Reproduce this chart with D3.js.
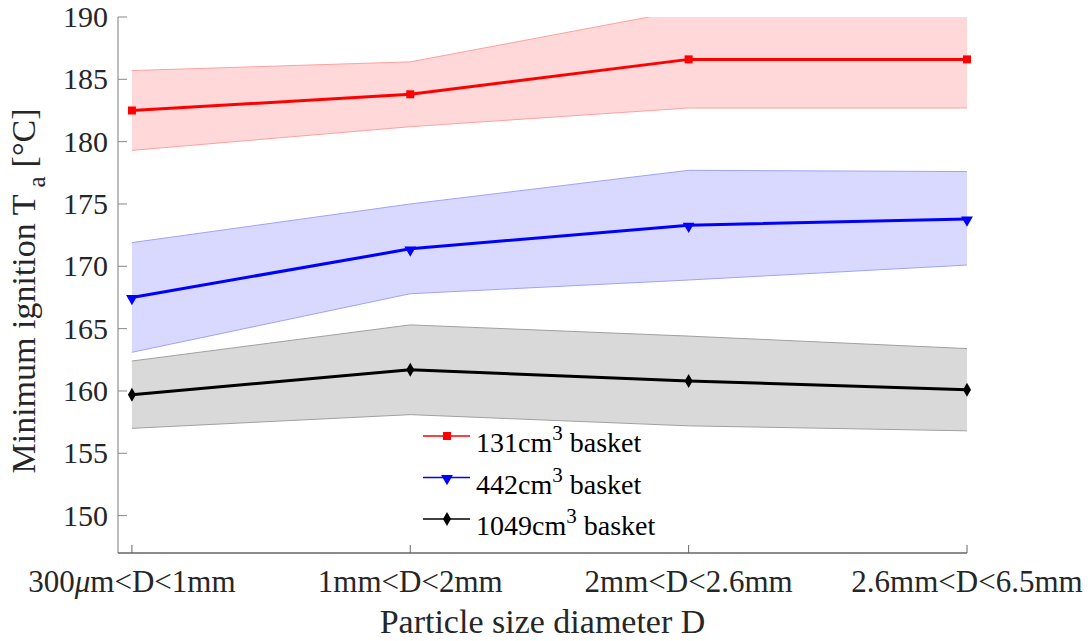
<!DOCTYPE html>
<html>
<head>
<meta charset="utf-8">
<script src="https://cdn.jsdelivr.net/npm/d3@7"></script>
</head>
<body style="margin:0;background:#fff">
<div id="chart"></div>
<script>
(function () {
  'use strict';

  /* ---- Data ---- */
  const categories = ['300μm<D<1mm', '1mm<D<2mm', '2mm<D<2.6mm', '2.6mm<D<6.5mm'];
  const yTicks = [150, 155, 160, 165, 170, 175, 180, 185, 190];

  const mean131  = [182.5, 183.8, 186.6, 186.6];
  const upper131 = [185.7, 186.4, 190.6, 190.6];
  const lower131 = [179.3, 181.2, 182.7, 182.7];

  const mean442  = [167.5, 171.4, 173.3, 173.8];
  const upper442 = [171.9, 175.0, 177.7, 177.6];
  const lower442 = [163.1, 167.8, 168.9, 170.1];

  const mean1049  = [159.7, 161.7, 160.8, 160.1];
  const upper1049 = [162.4, 165.3, 164.4, 163.4];
  const lower1049 = [157.0, 158.1, 157.2, 156.8];

  const SERIES = [
    { vol: '131',  mean: mean131,  upper: upper131,  lower: lower131,  color: '#ff0000', fill: '#ffd9d9', edge: '#ffa0a0', marker: 'square' },
    { vol: '442',  mean: mean442,  upper: upper442,  lower: lower442,  color: '#0000ff', fill: '#d9d9ff', edge: '#a0a0ff', marker: 'triangle' },
    { vol: '1049', mean: mean1049, upper: upper1049, lower: lower1049, color: '#000000', fill: '#d9d9d9', edge: '#a0a0a0', marker: 'diamond' },
  ];

  /* ---- Layout ---- */
  const W = 1091, H = 641;
  const M = { left: 118, top: 17, right: 967, bottom: 553 };

  const x = d3.scaleLinear().domain([0.95, 4]).range([M.left, M.right]);
  const y = d3.scaleLinear().domain([147, 190]).range([M.bottom, M.top]);

  const svg = d3.select('#chart').append('svg')
    .attr('width', W).attr('height', H);

  // serif text helper
  function serif(sel, size) {
    return sel.attr('font-family', 'Times New Roman')
      .style('font-family', '"Times New Roman", "Liberation Serif", serif')
      .style('font-size', size + 'px');
  }

  svg.append('defs').append('clipPath').attr('id', 'plotClip')
    .append('rect')
      .attr('x', M.left).attr('y', M.top)
      .attr('width', M.right - M.left).attr('height', M.bottom - M.top);

  const plot = svg.append('g').attr('clip-path', 'url(#plotClip)');

  /* ---- Bands ---- */
  const area = d3.area()
    .x((d, i) => x(i + 1))
    .y0(d => y(d[0]))
    .y1(d => y(d[1]));
  const edgeLine = d3.line().x((d, i) => x(i + 1)).y(d => y(d));

  SERIES.forEach(s => {
    const pts = s.lower.map((lo, i) => [lo, s.upper[i]]);
    plot.append('path').attr('d', area(pts)).attr('fill', s.fill);
    plot.append('path').attr('d', edgeLine(s.upper)).attr('fill', 'none').attr('stroke', s.edge).attr('stroke-width', 1);
    plot.append('path').attr('d', edgeLine(s.lower)).attr('fill', 'none').attr('stroke', s.edge).attr('stroke-width', 1);
  });

  /* ---- Axes ---- */
  const yAxis = svg.append('g');
  yAxis.append('line')
    .attr('x1', M.left).attr('x2', M.left).attr('y1', M.top).attr('y2', M.bottom)
    .attr('stroke', '#999').attr('stroke-width', 1.3);
  yAxis.selectAll('.ytick').data(yTicks).join('line')
    .attr('x1', M.left).attr('x2', M.left + 9)
    .attr('y1', d => y(d)).attr('y2', d => y(d))
    .attr('stroke', '#888').attr('stroke-width', 1);
  serif(yAxis.selectAll('.ylab').data(yTicks).join('text'), 30)
    .attr('x', M.left - 10).attr('y', d => y(d) + 10)
    .attr('text-anchor', 'end')
    .attr('fill', '#262626')
    .text(d => d);

  const xAxis = svg.append('g');
  xAxis.append('line')
    .attr('x1', M.left).attr('x2', M.right).attr('y1', M.bottom).attr('y2', M.bottom)
    .attr('stroke', '#666').attr('stroke-width', 1.3);
  xAxis.selectAll('.xtick').data(categories).join('line')
    .attr('x1', (d, i) => x(i + 1)).attr('x2', (d, i) => x(i + 1))
    .attr('y1', M.bottom).attr('y2', M.bottom - 8)
    .attr('stroke', '#666').attr('stroke-width', 1);
  const xl = serif(xAxis.selectAll('.xlab').data(categories).join('text'), 31)
    .attr('x', (d, i) => x(i + 1)).attr('y', 592)
    .attr('text-anchor', 'middle')
    .attr('fill', '#262626');
  xl.each(function (d) {
    const t = d3.select(this);
    const k = d.indexOf('μ');
    if (k < 0) { t.text(d); return; }
    t.append('tspan').text(d.slice(0, k));
    t.append('tspan').style('font-style', 'italic').text('μ');
    t.append('tspan').text(d.slice(k + 1));
  });

  /* ---- Axis titles ---- */
  serif(svg.append('text'), 34)
    .attr('x', (M.left + M.right) / 2).attr('y', 633)
    .attr('text-anchor', 'middle')
    .attr('fill', '#262626')
    .text('Particle size diameter D');

  const yt = serif(svg.append('text'), 34)
    .attr('transform', `translate(35,${(M.top + M.bottom) / 2 + 6}) rotate(-90)`)
    .attr('text-anchor', 'middle')
    .attr('fill', '#262626');
  yt.append('tspan').text('Minimum ignition T');
  yt.append('tspan').attr('dx', 7).attr('dy', 10).style('font-size', '25px').text('a');
  yt.append('tspan').attr('dx', 9).attr('dy', -10).text('[°C]');

  /* ---- Lines & markers ---- */
  const line = d3.line().x((d, i) => x(i + 1)).y(d => y(d));
  const symbolFor = {
    square:   d3.symbol().type(d3.symbolSquare).size(64),
    triangle: d3.symbol().type(d3.symbolTriangle).size(60),
    diamond:  d3.symbol().type(d3.symbolDiamond).size(56),
  };
  const markerTransform = (m, px, py) =>
    m === 'triangle' ? `translate(${px},${py + 1}) rotate(180)` : `translate(${px},${py})`;

  SERIES.forEach(s => {
    svg.append('path').attr('d', line(s.mean))
      .attr('fill', 'none').attr('stroke', s.color).attr('stroke-width', 3);
    svg.selectAll(null).data(s.mean).join('path')
      .attr('d', symbolFor[s.marker]())
      .attr('transform', (d, i) => markerTransform(s.marker, x(i + 1), y(d)))
      .attr('fill', s.color);
  });

  /* ---- Legend ---- */
  const legend = svg.append('g');
  SERIES.forEach((s, i) => {
    const ly = 436 + i * 41.5;
    legend.append('line')
      .attr('x1', 423).attr('x2', 470).attr('y1', ly).attr('y2', ly)
      .attr('stroke', s.color).attr('stroke-width', 1.6);
    legend.append('path')
      .attr('d', symbolFor[s.marker]())
      .attr('transform', markerTransform(s.marker, 447, ly))
      .attr('fill', s.color);
    const t = serif(legend.append('text'), 28)
      .attr('x', 476).attr('y', ly + 16)
      .attr('fill', '#000');
    t.append('tspan').text(s.vol + 'cm');
    t.append('tspan').attr('dy', -12).style('font-size', '21px').text('3');
    t.append('tspan').attr('dy', 12).attr('dx', 7).text('basket');
  });
})();
</script>
</body>
</html>
